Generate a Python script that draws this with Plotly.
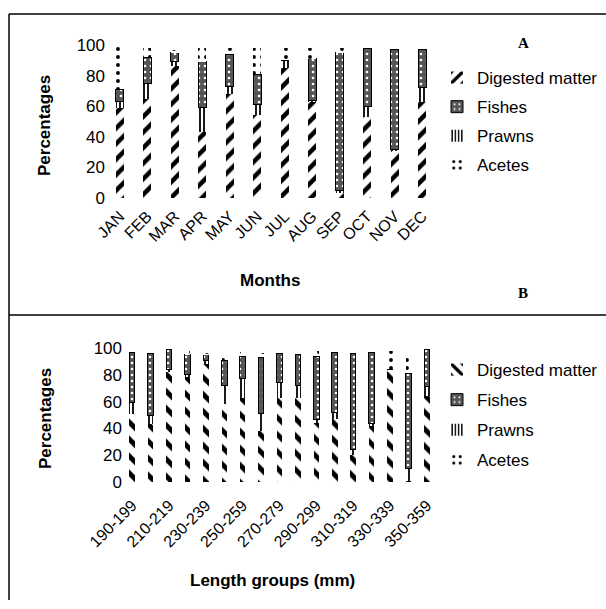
import plotly.graph_objects as go

# Panel A: stomach contents by month (%)
months = ["JAN", "FEB", "MAR", "APR", "MAY", "JUN", "JUL", "AUG", "SEP", "OCT", "NOV", "DEC"]
digested_a = [59, 65, 86, 43, 68, 54, 85, 63, 3, 53, 31, 63]
prawns_a = [4, 10, 3, 16, 5, 7, 5, 1, 2, 7, 1, 9]
fishes_a = [8, 17, 6, 30, 21, 20, 0, 27, 90, 38, 65, 25]
acetes_a = [29, 6, 2, 9, 4, 17, 8, 7, 3, 0, 0, 0]

# Panel B: stomach contents by length group (%)
length_groups = ["190-199", "200-209", "210-219", "220-229", "230-239", "240-249",
                 "250-259", "260-269", "270-279", "280-289", "290-299", "300-309",
                 "310-319", "320-329", "330-339", "340-349", "350-359"]
digested_b = [51, 43, 82, 78, 88, 58, 63, 38, 63, 63, 44, 47, 20, 42, 84, 1, 64]
prawns_b = [8, 7, 2, 2, 3, 14, 14, 13, 11, 9, 3, 5, 4, 2, 0, 9, 7]
fishes_b = [38, 46, 15, 15, 4, 19, 17, 42, 22, 23, 47, 45, 72, 53, 0, 71, 28]
acetes_b = [0, 0, 0, 3, 1, 2, 3, 3, 0, 0, 4, 0, 0, 0, 14, 14, 0]

W, H = 606, 609
FONT = "Liberation Sans, Arial, sans-serif"


def px_x(v):
    return v / W


def px_y(v):
    return 1 - v / H


def series_style(name, hatch, hatch_size):
    if name == "Digested matter":
        return dict(color="white",
                    pattern=dict(shape=hatch, fgcolor="black", bgcolor="white",
                                 size=hatch_size, solidity=0.42, fillmode="replace"),
                    line=dict(width=0))
    if name == "Fishes":
        return dict(color="#555555",
                    pattern=dict(shape=".", fgcolor="white", bgcolor="#555555",
                                 size=6, solidity=0.15, fillmode="replace"),
                    line=dict(color="black", width=1))
    if name == "Prawns":
        return dict(color="white",
                    pattern=dict(shape="|", fgcolor="black", bgcolor="white",
                                 size=4, solidity=0.45, fillmode="replace"),
                    line=dict(width=0))
    return dict(color="white",
                pattern=dict(shape=".", fgcolor="black", bgcolor="white",
                             size=8, solidity=0.18, fillmode="replace"),
                line=dict(width=0))


rank = {"Digested matter": 1, "Fishes": 2, "Prawns": 3, "Acetes": 4}

fig = go.Figure()

panel_a = [("Digested matter", digested_a), ("Prawns", prawns_a),
           ("Fishes", fishes_a), ("Acetes", acetes_a)]
for name, vals in panel_a:
    fig.add_trace(go.Bar(
        x=months, y=vals, name=name, width=0.3,
        marker=series_style(name, "/", 11),
        xaxis="x", yaxis="y", legend="legend",
        legendgroup="a" + name, legendrank=rank[name],
    ))

panel_b = [("Digested matter", digested_b), ("Prawns", prawns_b),
           ("Fishes", fishes_b), ("Acetes", acetes_b)]
for name, vals in panel_b:
    fig.add_trace(go.Bar(
        x=length_groups, y=vals, name=name, width=0.3,
        marker=series_style(name, "\\", 12),
        xaxis="x2", yaxis="y2", legend="legend2",
        legendgroup="b" + name, legendrank=rank[name],
    ))

tick_font = dict(family=FONT, size=16, color="black")
yticks = [0, 20, 40, 60, 80, 100]
axis_common = dict(showline=False, showgrid=False, ticks="", zeroline=False,
                   automargin=False)

fig.update_layout(
    width=W, height=H,
    margin=dict(l=0, r=0, t=0, b=0, pad=0, autoexpand=False),
    paper_bgcolor="white", plot_bgcolor="white",
    barmode="stack",
    font=dict(family=FONT, color="black"),
    xaxis=dict(domain=[px_x(106), px_x(436)], anchor="y", type="category",
               range=[-0.5, 11.5], tickangle=-45, tickfont=tick_font,
               ticklabelstandoff=5, **axis_common),
    yaxis=dict(domain=[px_y(198), px_y(45)], anchor="x", range=[0, 100],
               tickvals=yticks, tickfont=dict(family=FONT, size=17, color="black"),
               **axis_common),
    xaxis2=dict(domain=[px_x(123), px_x(436)], anchor="y2", type="category",
                range=[-0.5, 16.5], tickvals=length_groups[::2], tickangle=-45,
                tickfont=tick_font, ticklabelstandoff=10, **axis_common),
    yaxis2=dict(domain=[px_y(482), px_y(348)], anchor="x2", range=[0, 100],
                tickvals=yticks, tickfont=dict(family=FONT, size=17, color="black"),
                **axis_common),
    legend=dict(x=px_x(437), y=px_y(60), xanchor="left", yanchor="top",
                font=dict(family=FONT, size=17, color="black"),
                bgcolor="rgba(0,0,0,0)", traceorder="grouped",
                tracegroupgap=4, itemwidth=30),
    legend2=dict(x=px_x(437), y=px_y(352), xanchor="left", yanchor="top",
                 font=dict(family=FONT, size=17, color="black"),
                 bgcolor="rgba(0,0,0,0)", traceorder="grouped",
                 tracegroupgap=5, itemwidth=30),
    showlegend=True,
)

annotations = [
    dict(text="<b>Percentages</b>", x=px_x(45), y=px_y(126), textangle=-90),
    dict(text="<b>Months</b>", x=px_x(270), y=px_y(280)),
    dict(text="<b>Percentages</b>", x=px_x(45), y=px_y(419), textangle=-90),
    dict(text="<b>Length groups (mm)</b>", x=px_x(272), y=px_y(580)),
]
for a in annotations:
    fig.add_annotation(xref="paper", yref="paper", showarrow=False,
                       xanchor="center", yanchor="middle",
                       font=dict(family=FONT, size=17, color="black"), **a)

for label, yy in (("A", 43), ("B", 293)):
    fig.add_annotation(text="<b>%s</b>" % label, xref="paper", yref="paper",
                       x=px_x(523), y=px_y(yy), showarrow=False,
                       xanchor="center", yanchor="middle",
                       font=dict(family="Liberation Serif, Times New Roman, serif",
                                 size=15, color="black"))

# Frame around the two panels
frame = dict(type="line", xref="paper", yref="paper",
             line=dict(color="black", width=1.5))
fig.add_shape(x0=px_x(9), x1=1, y0=px_y(14), y1=px_y(14), **frame)
fig.add_shape(x0=px_x(9), x1=1, y0=px_y(315), y1=px_y(315), **frame)
fig.add_shape(x0=px_x(9), x1=px_x(9), y0=px_y(14), y1=px_y(600), **frame)

fig.write_html("out.html")
